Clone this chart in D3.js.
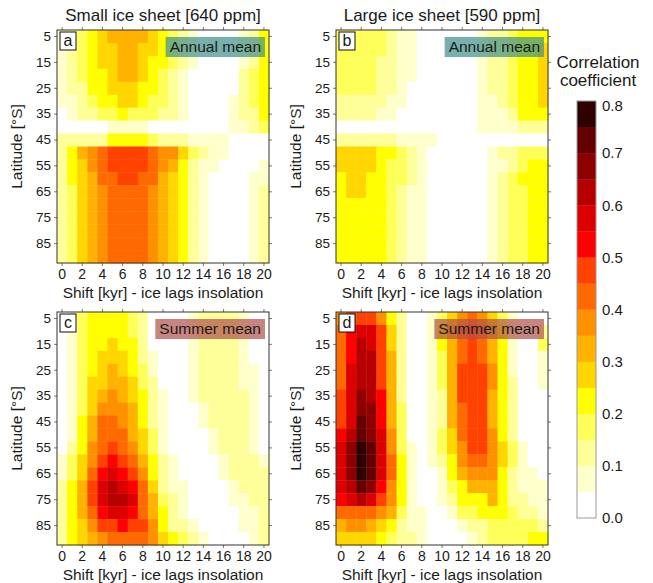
<!DOCTYPE html>
<html>
<head>
<meta charset="utf-8">
<script src="https://cdn.jsdelivr.net/npm/d3@7/dist/d3.min.js"></script>
<style>
  body { margin: 0; background: #fff; }
  text { font-family: "Liberation Sans", Arial, sans-serif; fill: #1a1a1a; }
</style>
</head>
<body>
<div id="chart"></div>
<script>
// Categories: lag of the ice sheet (kyr) and latitude bands (°S)
const SHIFTS = [0, 1, 2, 3, 4, 5, 6, 7, 8, 9, 10, 11, 12, 13, 14, 15, 16, 17, 18, 19, 20];
const LATITUDES = [5, 10, 15, 20, 25, 30, 35, 40, 45, 50, 55, 60, 65, 70, 75, 80, 85, 90];
const X_TICKS = [0, 2, 4, 6, 8, 10, 12, 14, 16, 18, 20];
const Y_TICKS = [5, 15, 25, 35, 45, 55, 65, 75, 85];
const BAR_TICKS = [0, 0.1, 0.2, 0.3, 0.4, 0.5, 0.6, 0.7, 0.8];

// Correlation, one row per latitude, one character per shift.
// Each character is the colour class (hex digit): value = (class + 0.5) * 0.05
const SMALL_ANNUAL = [
  "123456666543210000124",
  "123455665543210000124",
  "123455665443210000124",
  "123445665432100000234",
  "122445554432100000234",
  "112344554332100001234",
  "012233433322100001224",
  "000001111000000001123",
  "222224444322211110000",
  "246789999877532110000",
  "245789999876421100001",
  "245688998865421000011",
  "235678888765421000012",
  "235678888765421000012",
  "235678888765421000012",
  "235678888765421000012",
  "235678888765421000012",
  "235678888765421000012"
];
const LARGE_ANNUAL = [
  "333332110000001223444",
  "333332110000001223445",
  "333322110000001223445",
  "333322110000001223445",
  "333322100000001223445",
  "222221100000001123445",
  "222211000000001112444",
  "000000000000001111222",
  "222222111100000000000",
  "555544321000000122333",
  "555543321000000112344",
  "455443321000000123444",
  "455443211000000123344",
  "444443211000000123344",
  "444443211000000123344",
  "444443211000000123344",
  "444443211000000123344",
  "444443211000000123344"
];
const SMALL_SUMMER = [
  "013444432000012222100",
  "013444432000012222100",
  "013445442000012222100",
  "013455542100012222100",
  "013456543100012222110",
  "013556653200012222110",
  "013567654210012222210",
  "013577764210001222210",
  "014688764210001222210",
  "014688865310000122210",
  "024789875310000122210",
  "13579a986421000012221",
  "1358aba97421000012222",
  "2469bcba8521100001222",
  "2469bccb8632100001122",
  "2468abba8642100000112",
  "245799a99742210000112",
  "245678888754321000012"
];
const LARGE_SUMMER = [
  "799974200135787531000",
  "8abb95200146898641002",
  "8acb95200146898641003",
  "8acc96200136898641001",
  "8bcc96200136999741001",
  "8bcc96200136999742001",
  "9bdca6200126999642000",
  "9bdda6300126899642000",
  "9beda6300126899642000",
  "acedb7300135899742000",
  "bdfeb7310135799753100",
  "bdfeb8410124788753100",
  "bdfeb8410014677742110",
  "bceda7410013466642111",
  "abcb97410012444642211",
  "888876311001334443221",
  "677654211000122333332",
  "555543221000012333344"
];

const COLORS = ["#ffffff", "#ffffcc", "#ffff99", "#ffff5a", "#ffff00", "#ffd600",
  "#ffb200", "#ff9000", "#ff6a00", "#ff4200", "#ff0000", "#dc0000",
  "#b60000", "#8e0000", "#640000", "#2e0000"];
const BREAKS = [0.05, 0.1, 0.15, 0.2, 0.25, 0.3, 0.35, 0.4, 0.45, 0.5, 0.55, 0.6, 0.65, 0.7, 0.75];

const W = 212, H = 233;
const PANELS = [
  { tag: "a", grid: SMALL_ANNUAL, x: 57, y: 30, season: "Annual mean", title: "Small ice sheet [640 ppm]" },
  { tag: "b", grid: LARGE_ANNUAL, x: 336, y: 30, season: "Annual mean", title: "Large ice sheet [590 ppm]" },
  { tag: "c", grid: SMALL_SUMMER, x: 57, y: 312, season: "Summer mean" },
  { tag: "d", grid: LARGE_SUMMER, x: 336, y: 312, season: "Summer mean" }
];
const SEASON_FILL = { "Annual mean": "#3f8f8a", "Summer mean": "#b0504a" };

const color = d3.scaleThreshold().domain(BREAKS).range(COLORS);
const x = d3.scaleBand().domain(SHIFTS).range([0, W]);
const y = d3.scaleBand().domain(LATITUDES).range([0, H]);

const svg = d3.select("#chart").append("svg")
  .attr("width", 653)
  .attr("height", 583);

function styleAxis(sel, size) {
  sel.select(".domain").remove();
  sel.selectAll(".tick line").attr("stroke", "#777");
  sel.selectAll(".tick text").attr("font-size", size).attr("fill", "#1a1a1a")
    .attr("font-family", '"Liberation Sans", Arial, sans-serif');
}

PANELS.forEach(p => {
  const cells = [];
  p.grid.forEach((row, i) => {
    row.split("").forEach((c, j) => {
      cells.push({ lat: LATITUDES[i], shift: SHIFTS[j], value: (parseInt(c, 16) + 0.5) * 0.05 });
    });
  });

  const g = svg.append("g").attr("transform", `translate(${p.x},${p.y})`);

  g.selectAll("rect.cell")
    .data(cells)
    .join("rect")
    .attr("class", "cell")
    .attr("x", d => x(d.shift))
    .attr("y", d => y(d.lat))
    .attr("width", x.bandwidth() + 0.4)
    .attr("height", y.bandwidth() + 0.4)
    .attr("fill", d => color(d.value));

  // axes on all four sides, labels only left and bottom
  g.append("g").attr("transform", `translate(0,${H})`)
    .call(d3.axisBottom(x).tickValues(X_TICKS).tickSize(3))
    .call(s => styleAxis(s, 14));
  g.append("g")
    .call(d3.axisLeft(y).tickValues(Y_TICKS).tickSize(3))
    .call(s => styleAxis(s, 13.5));
  g.append("g")
    .call(d3.axisTop(x).tickValues(X_TICKS).tickSize(3).tickFormat(""))
    .call(s => styleAxis(s, 0));
  g.append("g").attr("transform", `translate(${W},0)`)
    .call(d3.axisRight(y).tickValues(Y_TICKS).tickSize(3).tickFormat(""))
    .call(s => styleAxis(s, 0));

  g.append("rect")
    .attr("width", W).attr("height", H)
    .attr("fill", "none").attr("stroke", "#333").attr("stroke-width", 1);

  // panel letter
  g.append("rect").attr("x", 3).attr("y", 2).attr("width", 16).attr("height", 18)
    .attr("fill", "#fff").attr("stroke", "#111").attr("stroke-width", 1);
  g.append("text").attr("x", 11).attr("y", 16).attr("text-anchor", "middle")
    .attr("font-size", 16).text(p.tag);

  // season label
  const st = g.append("text").attr("x", W - 8).attr("y", 22)
    .attr("text-anchor", "end").attr("font-size", 15.5).text(p.season);
  const bb = st.node().getBBox();
  g.insert("rect", () => st.node())
    .attr("x", bb.x - 4).attr("y", 7).attr("width", bb.width + 8).attr("height", 20)
    .attr("fill", SEASON_FILL[p.season]).attr("opacity", 0.7);

  g.append("text")
    .attr("transform", `translate(-35,${H / 2}) rotate(-90)`)
    .attr("text-anchor", "middle").attr("font-size", 15.5)
    .text("Latitude [°S]");
  g.append("text")
    .attr("x", W / 2).attr("y", H + 35)
    .attr("text-anchor", "middle").attr("font-size", 15.5)
    .text("Shift [kyr] - ice lags insolation");

  if (p.title) {
    g.append("text").attr("x", W / 2).attr("y", -9)
      .attr("text-anchor", "middle").attr("font-size", 17)
      .text(p.title);
  }
});

// colour bar
const BAR_X = 577, BAR_W = 19;
const bar = d3.scaleLinear().domain([0, 0.8]).range([518, 101]);
const barData = COLORS.map((c, i) => ({ lo: i * 0.05, hi: (i + 1) * 0.05, c }));

svg.append("g").selectAll("rect")
  .data(barData)
  .join("rect")
  .attr("x", BAR_X)
  .attr("y", d => bar(d.hi))
  .attr("width", BAR_W)
  .attr("height", d => bar(d.lo) - bar(d.hi) + 0.3)
  .attr("fill", d => d.c);
svg.append("rect").attr("x", BAR_X).attr("y", bar(0.8)).attr("width", BAR_W)
  .attr("height", bar(0) - bar(0.8)).attr("fill", "none").attr("stroke", "#999");

svg.append("g").selectAll("text")
  .data(BAR_TICKS)
  .join("text")
  .attr("x", BAR_X + BAR_W + 6)
  .attr("y", d => Math.max(bar(d), bar(0.8) + 5))
  .attr("dy", "0.35em")
  .attr("font-size", 15)
  .text(d => d.toFixed(1));

svg.append("text").attr("x", 598).attr("y", 68).attr("text-anchor", "middle")
  .attr("font-size", 17).text("Correlation");
svg.append("text").attr("x", 598).attr("y", 86).attr("text-anchor", "middle")
  .attr("font-size", 17).text("coefficient");
</script>
</body>
</html>
